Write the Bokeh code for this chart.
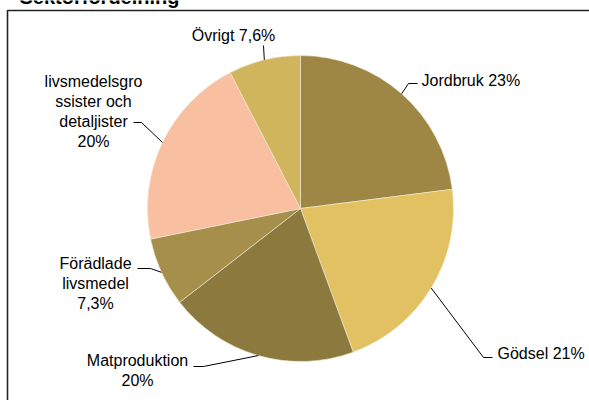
import math
from bokeh.plotting import figure
from bokeh.models import Range1d, ColumnDataSource
from bokeh.core.properties import value
from bokeh.embed import file_html
from bokeh.resources import INLINE

# ---- data ----
title_text = "Sektorfördelning"
categories = ["Jordbruk", "Gödsel", "Matproduktion", "Förädlade livsmedel",
              "livsmedelsgrossister och detaljister", "Övrigt"]
values = [23.0, 21.4, 20.1, 7.3, 20.6, 7.6]
labels = ["Jordbruk 23%", "Gödsel 21%", "Matproduktion\n20%",
          "Förädlade\nlivsmedel\n7,3%",
          "livsmedelsgro\nssister och\ndetaljister\n20%", "Övrigt 7,6%"]
colors = ["#9E8745", "#E1C161", "#8B793E", "#A58F4B", "#F8BFA0", "#D0B55C"]

# ---- layout (pixel coordinates, origin top-left) ----
W, H = 589, 400
CX, CY, R = 300, 208, 153
label_pos = [(421, 80), (497, 353), (137, 370), (95, 283), (93, 111), (233, 35)]
label_align = ["left", "left", "center", "center", "center", "center"]
elbows = [[(408, 83), (417, 83)],
          [(483, 357), (492, 357)],
          [(203, 366), (193, 366)],
          [(150, 268), (137, 268)],
          [(141, 122), (133, 122)],
          [(263, 45)]]

def fy(py):
    return H - py

p = figure(width=W, height=H, output_backend="svg", toolbar_location=None,
           x_range=Range1d(0, W), y_range=Range1d(0, H), min_border=0,
           outline_line_color=None)
p.margin = (0, 0, 0, 0)
p.axis.visible = False
p.xgrid.visible = False
p.ygrid.visible = False
p.background_fill_color = "white"
p.border_fill_color = "white"

# chart border
p.quad(left=[7], right=[W + 20], top=[fy(10)], bottom=[-20],
       fill_color=None, line_color="#222222", line_width=1.6)

# title (clipped at top as in the reference)
p.text(x=[19], y=[fy(-3.5)], text=[title_text], text_font=value("Liberation Sans"),
       text_font_size="20px", text_font_style="bold", text_baseline="alphabetic",
       text_align="left", text_color="black")

# wedges
total = sum(values)
starts, ends, mids = [], [], []
cum = 0.0
for v in values:
    a0 = math.pi / 2 - 2 * math.pi * cum / total
    cum += v
    a1 = math.pi / 2 - 2 * math.pi * cum / total
    starts.append(a1)
    ends.append(a0)
    mids.append((a0 + a1) / 2)

src = ColumnDataSource(dict(start=starts, end=ends, color=colors, cat=categories))
p.wedge(x=CX, y=fy(CY), radius=R, start_angle="start", end_angle="end",
        direction="anticlock", fill_color="color", line_color="#F2EBD8",
        line_width=0.6, source=src)

# leader lines
xs, ys = [], []
for m, el in zip(mids, elbows):
    ex = CX + R * math.cos(m)
    ey = fy(CY) + R * math.sin(m)
    xs.append([ex] + [e[0] for e in el])
    ys.append([ey] + [fy(e[1]) for e in el])
p.multi_line(xs=xs, ys=ys, line_color="black", line_width=1)

# labels
lsrc = ColumnDataSource(dict(x=[lp[0] for lp in label_pos],
                             y=[fy(lp[1]) for lp in label_pos],
                             text=labels, align=label_align))
p.text(x="x", y="y", text="text", text_align="align", text_baseline="middle",
       text_font=value("Liberation Sans"), text_font_size="16px",
       text_line_height=1.19, text_color="black", source=lsrc)

open("out.html", "w").write(file_html(p, INLINE))
